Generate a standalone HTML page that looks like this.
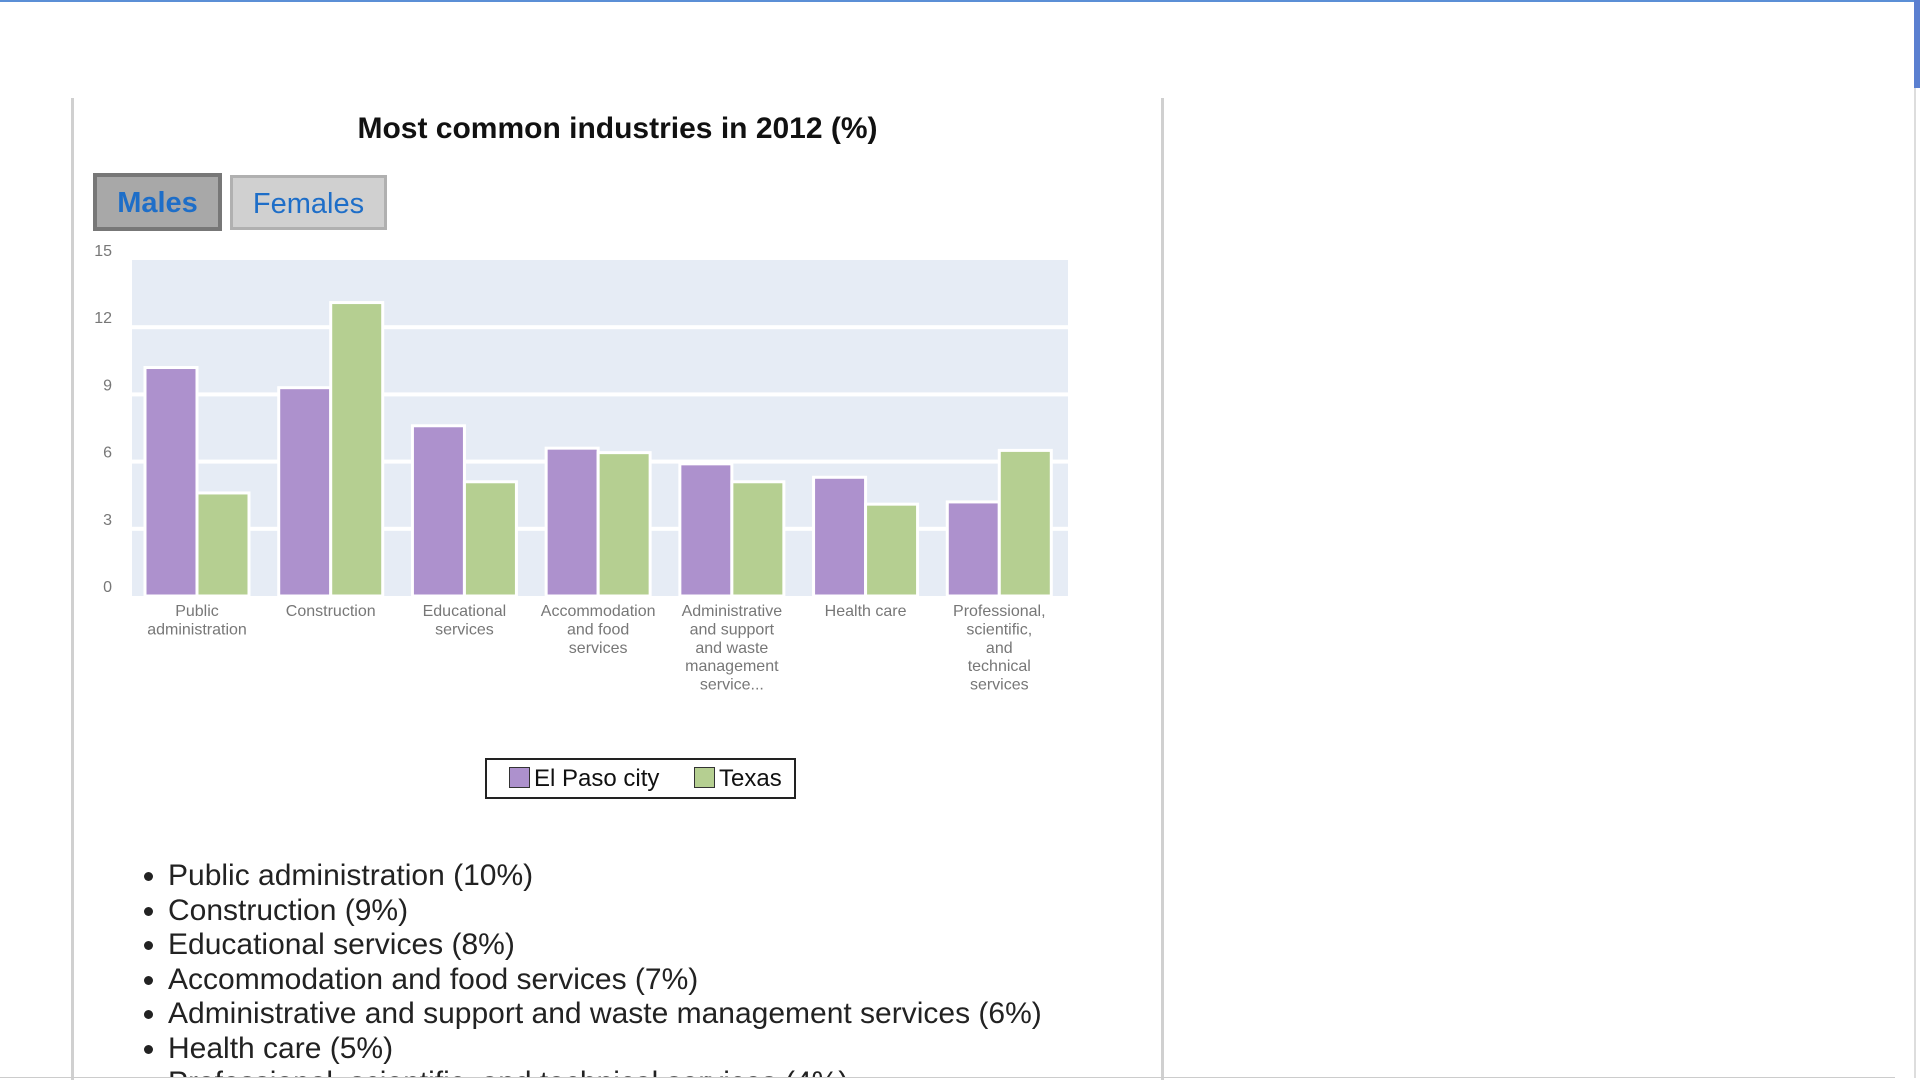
<!DOCTYPE html>
<html><head><meta charset="utf-8">
<style>
html,body{margin:0;padding:0;width:1920px;height:1080px;overflow:hidden;background:#fff;font-family:"Liberation Sans",Arial,sans-serif;}
.abs{position:absolute;}
.btn{position:absolute;box-sizing:border-box;color:#1e6ec8;font-size:29px;text-align:center;line-height:52px;}
.clip{position:absolute;left:0;top:0;width:1920px;height:1077px;overflow:hidden;}
ul{position:absolute;left:130px;top:859px;margin:0;padding:0 0 0 38px;font-size:30px;color:#222;line-height:34.5px;}
</style></head>
<body>
<div class="abs" style="left:0;top:0;width:1920px;height:2px;background:#5b8fd6"></div>
<div class="abs" style="left:1914px;top:0;width:6px;height:88px;background:#5b7fd0"></div>
<div class="abs" style="left:1914px;top:88px;width:2px;height:990px;background:#ddd"></div>
<div class="abs" style="left:71px;top:98px;width:3px;height:982px;background:#d0d0d0"></div>
<div class="abs" style="left:1161px;top:98px;width:3px;height:982px;background:#d0d0d0"></div>
<div class="abs" style="left:0;top:1077px;width:1895px;height:1px;background:#ccc"></div>
<div class="abs" style="left:74px;width:1087px;top:112px;text-align:center;font-size:30px;font-weight:bold;color:#111">Most common industries in 2012 (%)</div>
<div class="btn" style="left:93px;top:173px;width:129px;height:58px;background:#a8a8a8;border:4px solid #777;font-weight:bold;">Males</div>
<div class="btn" style="left:230px;top:175px;width:157px;height:55px;background:#d0d0d0;border:3px solid #b0b0b0;">Females</div>
<svg class="abs" style="left:0;top:0" width="1920" height="1080" id="chart"></svg>
<div class="abs" style="left:485px;top:758px;width:311px;height:41px;border:2px solid #222;box-sizing:border-box;font-size:24px;color:#111;line-height:37px;">
 <span style="position:absolute;left:22px;"><span style="display:inline-block;width:19px;height:19px;background:#ad91cd;border:1px solid #333;vertical-align:-2px;margin-right:4px"></span>El Paso city</span>
 <span style="position:absolute;left:207px;"><span style="display:inline-block;width:19px;height:19px;background:#b5cf91;border:1px solid #333;vertical-align:-2px;margin-right:4px"></span>Texas</span>
</div>
<div class="clip">
<ul>
<li>Public administration (10%)</li>
<li>Construction (9%)</li>
<li>Educational services (8%)</li>
<li>Accommodation and food services (7%)</li>
<li>Administrative and support and waste management services (6%)</li>
<li>Health care (5%)</li>
<li>Professional, scientific, and technical services (4%)</li>
</ul>
</div>
<script>
const categories=[["Public","administration"],["Construction"],["Educational","services"],["Accommodation","and food","services"],["Administrative","and support","and waste","management","service..."],["Health care"],["Professional,","scientific,","and","technical","services"]];
const elPaso=[10.2,9.3,7.6,6.6,5.9,5.3,4.2];
const texas=[4.6,13.1,5.1,6.4,5.1,4.1,6.5];
const yTicks=[0,3,6,9,12,15];
const NS="http://www.w3.org/2000/svg";
const svg=document.getElementById('chart');
const X0=132,X1=1068,Y0=596,Y1=260,YMAX=15;
const y=v=>Y0-(v/YMAX)*(Y0-Y1);
const gw=(X1-X0)/categories.length;
const x=i=>X0+i*gw;
function mk(t,a){const e=document.createElementNS(NS,t);for(const k in a)e.setAttribute(k,a[k]);svg.appendChild(e);return e;}
const bg=mk('rect',{x:X0,y:Y1,width:X1-X0,height:Y0-Y1,fill:'#e6ecf5'});


yTicks.forEach(t=>{
  if(t>0&&t<15){const g=mk('rect',{x:X0,y:y(t)-2,width:X1-X0,height:4,fill:'#fff'});
  
  }
  const l=mk('text',{x:112,y:y(t)-4,'text-anchor':'end','font-size':'16',fill:'#777','font-family':'Liberation Sans, sans-serif'});
  l.textContent=t;
  
  
});
const bw=52;
function bar(i,v,off,col,name){
  const bx=x(i)+13+off, by=y(v);
  const r=mk('rect',{x:bx,y:by,width:bw,height:Y0-by,fill:col,stroke:'#fff','stroke-width':3});
  
  
}
categories.forEach((c,i)=>{
  bar(i,elPaso[i],0,'#ad91cd','bar-el-paso');
  bar(i,texas[i],bw,'#b5cf91','bar-texas');
  const t=mk('text',{'text-anchor':'middle','font-size':'16',fill:'#777','font-family':'Liberation Sans, sans-serif'});
  
  
  c.forEach((ln,j)=>{const s=document.createElementNS(NS,'tspan');s.setAttribute('x',x(i)+13+bw);s.setAttribute('y',616+j*18.4);s.textContent=ln;t.appendChild(s);});
});
</script>
</body></html>
